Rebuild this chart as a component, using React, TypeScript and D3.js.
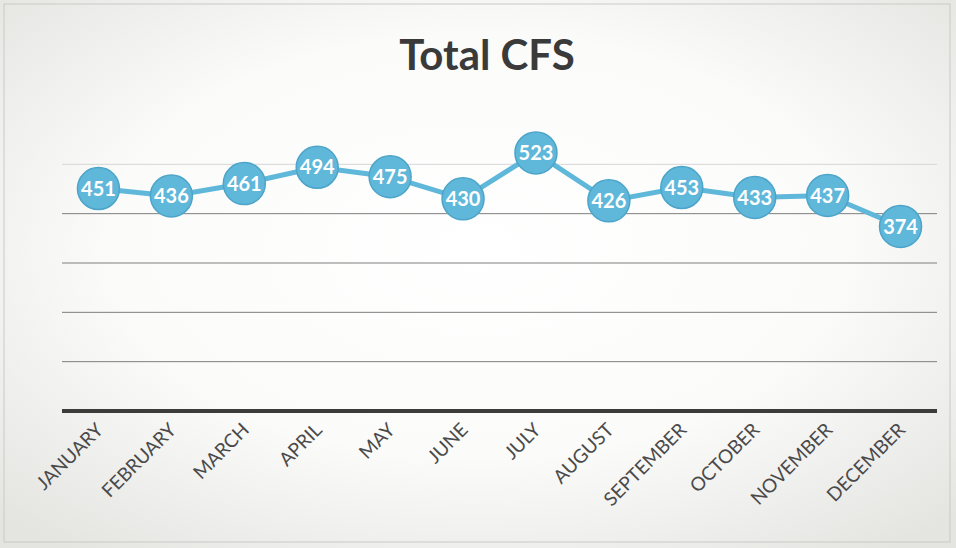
import * as d3 from 'd3'

const months = [
	'JANUARY',
	'FEBRUARY',
	'MARCH',
	'APRIL',
	'MAY',
	'JUNE',
	'JULY',
	'AUGUST',
	'SEPTEMBER',
	'OCTOBER',
	'NOVEMBER',
	'DECEMBER',
]
const totals = [451, 436, 461, 494, 475, 430, 523, 426, 453, 433, 437, 374]
const gridTicks = [100, 200, 300, 400, 500]
const title = 'Total CFS'

const width = 956
const height = 548
const marginLeft = 62
const marginRight = 19
const marginTop = 115
const marginBottom = 137

const blue = '#5fb7da'

const App = () => {
	const x = d3
		.scaleBand()
		.domain(months)
		.range([marginLeft, width - marginRight])

	const y = d3
		.scaleLinear()
		.domain([0, 600])
		.range([height - marginBottom, marginTop])

	const line = d3
		.line<number>()
		.x((d, i) => x(months[i])! + x.bandwidth() / 2)
		.y((d) => y(d))

	return (
		<svg
			width={width}
			height={height}
			style={{ position: 'absolute', left: 0, top: 0, display: 'block' }}
		>
			<defs>
				<radialGradient id="paper" cx="50%" cy="45%" r="70%">
					<stop offset="0%" stopColor="#ffffff" />
					<stop offset="55%" stopColor="#fbfbfa" />
					<stop offset="100%" stopColor="#e4e4e1" />
				</radialGradient>
			</defs>
			<rect width={width} height={height} fill="url(#paper)" />
			<rect x={4} y={4} width={width - 10} height={height - 10} fill="none" stroke="#c9c9c6" />

			<text
				x={487}
				y={70}
				textAnchor="middle"
				fontFamily="Lato, 'Open Sans', sans-serif"
				fontWeight="bold"
				fontSize={42}
				fill="#3a3a3a"
			>
				{title}
			</text>

			{/* линии сетки */}
			{gridTicks.map((t) => (
				<line
					key={t}
					x1={marginLeft}
					x2={width - marginRight}
					y1={y(t)}
					y2={y(t)}
					stroke={t === 500 ? '#d6d6d6' : '#7e7e7e'}
					strokeWidth={1}
				/>
			))}
			<line
				x1={marginLeft}
				x2={width - marginRight}
				y1={y(0)}
				y2={y(0)}
				stroke="#3c3c3c"
				strokeWidth={4}
			/>

			{months.map((m) => {
				const cx = x(m)! + x.bandwidth() / 2 + 6
				const cy = y(0) + 20
				return (
					<text
						key={m}
						transform={`translate(${cx},${cy}) rotate(-45)`}
						textAnchor="end"
						fontFamily="Lato, 'Open Sans', sans-serif"
						fontSize={19}
						fill="#4a4a4a"
					>
						{m}
					</text>
				)
			})}

			<path d={line(totals)!} fill="none" stroke={blue} strokeWidth={5} />

			{totals.map((v, i) => {
				const cx = x(months[i])! + x.bandwidth() / 2
				const cy = y(v)
				return (
					<g key={months[i]}>
						<circle cx={cx} cy={cy} r={21} fill={blue} stroke="#4ca5c9" strokeWidth={1.5} />
						<text
							x={cx}
							y={cy}
							dy="0.36em"
							textAnchor="middle"
							fontFamily="Lato, 'Open Sans', sans-serif"
							fontWeight="bold"
							fontSize={20}
							fill="#ffffff"
						>
							{v}
						</text>
					</g>
				)
			})}
		</svg>
	)
}

export default App
